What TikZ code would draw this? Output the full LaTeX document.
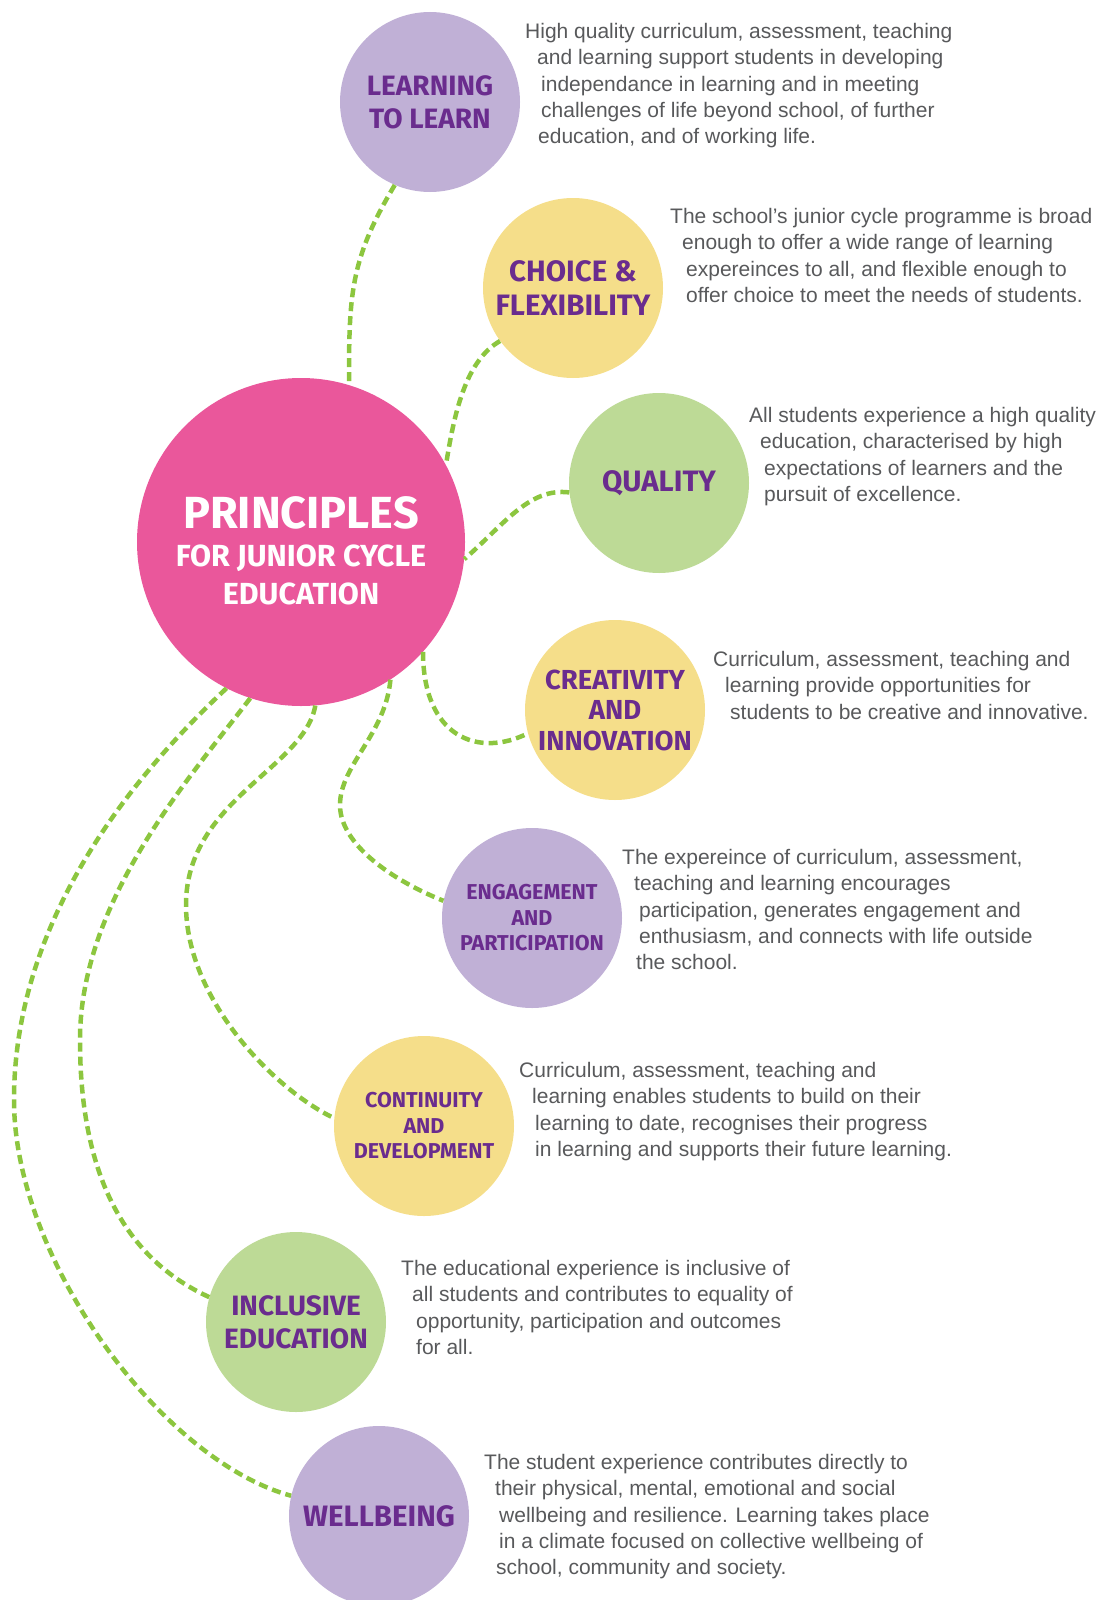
\documentclass[tikz,border=0pt]{standalone}
\usepackage{fontspec}
\usepackage{tikz}
\usetikzlibrary{positioning}
\newfontfamily\bodyfont{Liberation Sans}
\newfontfamily\labelfont{Fira Sans}

\definecolor{lav}{HTML}{C0B0D6}
\definecolor{sun}{HTML}{F5DE8A}
\definecolor{leaf}{HTML}{BDDA96}
\definecolor{rose}{HTML}{EA579B}
\definecolor{grape}{HTML}{6A2C8E}
\definecolor{vine}{HTML}{8CC63F}
\definecolor{ink}{HTML}{58595B}

\tikzset{
  bubble/.style={circle, minimum size=180pt, inner sep=0pt, align=center, text=grape,
    font=\labelfont\bfseries\fontsize{28}{33}\selectfont},
  smallbubble/.style={bubble, font=\labelfont\bfseries\fontsize{21.5}{25.5}\selectfont},
  hub/.style={circle, minimum size=328pt, inner sep=0pt, fill=rose},
  hubtext/.style={align=center, inner sep=0pt, text=white,
    font=\labelfont\bfseries\fontsize{30.5}{38}\selectfont},
  blurb/.style={anchor=north west, inner sep=0pt, align=left, text=ink,
    font=\bodyfont\fontsize{21}{26.3}\selectfont},
  link/.style={vine, line width=4.5pt, dash pattern=on 9pt off 5pt}
}

\begin{document}
\begin{tikzpicture}[x=1pt, y=-1pt]
  \useasboundingbox (0,0) rectangle (1102,1600);

  % circles
  \node[hub] (hub) at (301,542) {};
  \node[hubtext] (hubtitle) at ([yshift=-9pt]hub.center) {{\fontsize{45}{46}\selectfont PRINCIPLES}\\FOR JUNIOR CYCLE\\EDUCATION};

  \node[bubble, fill=lav] (learn) at (430,102) {LEARNING\\TO LEARN};
  \node[bubble, fill=sun, font=\labelfont\bfseries\fontsize{29.5}{34}\selectfont] (choice) at (573,288) {CHOICE \&\\FLEXIBILITY};
  \node[bubble, fill=leaf, font=\labelfont\bfseries\fontsize{29.5}{34}\selectfont] (quality) at (659,483) {QUALITY};
  \node[bubble, fill=sun, font=\labelfont\bfseries\fontsize{27.5}{30.5}\selectfont] (create) at (615,710) {CREATIVITY\\AND\\INNOVATION};
  \node[smallbubble, fill=lav] (engage) at (532,918) {ENGAGEMENT\\AND\\PARTICIPATION};
  \node[smallbubble, fill=sun] (contin) at (424,1126) {CONTINUITY\\AND\\DEVELOPMENT};
  \node[bubble, fill=leaf] (incl) at (296,1322) {INCLUSIVE\\EDUCATION};
  \node[bubble, fill=lav, font=\labelfont\bfseries\fontsize{29.5}{34}\selectfont] (well) at (379,1516) {WELLBEING};

  % dashed links
  \draw[link] (learn.247) .. controls +(-45,75) and +(0,-90) .. (hub.73);
  \draw[link] (choice.216) .. controls +(-35,20) and +(8,-50) .. (hub.28);
  \draw[link] (quality.186) .. controls +(-40,-5) and +(40,-35) .. (hub.354);
  \draw[link] (hub.318) .. controls +(0,85) and +(-50,25) .. (create.195);
  \draw[link] (hub.303) .. controls +(-5,55) and +(0,-40) .. (340,805)
    .. controls +(0,40) and +(-50,-20) .. (engage.169);
  \draw[link] (hub.275) .. controls +(-11,63) and +(0,-105) .. (186,905)
    .. controls +(0,95) and +(-59,-28) .. (contin.175);
  \draw[link] (hub.252) .. controls +(-60,79) and +(0,-140) .. (80,1040)
    .. controls +(0,140) and +(-81,-37) .. (incl.164);
  \draw[link] (hub.243) .. controls +(-107,100) and +(0,-170) .. (14,1100)
    .. controls +(0,160) and +(-129,-35) .. (well.167);

  % descriptions
  \node[blurb] (learntxt) at (525,23) {High quality curriculum, assessment, teaching\\
    \hspace*{12pt}and learning support students in developing\\
    \hspace*{16pt}independance in learning and in meeting\\
    \hspace*{16pt}challenges of life beyond school, of further\\
    \hspace*{13pt}education, and of working life.};
  \node[blurb] (choicetxt) at (670,208) {The school’s junior cycle programme is broad\\
    \hspace*{12pt}enough to offer a wide range of learning\\
    \hspace*{16pt}expereinces to all, and flexible enough to\\
    \hspace*{16pt}offer choice to meet the needs of students.};
  \node[blurb] (qualitytxt) at (749,407) {All students experience a high quality\\
    \hspace*{11pt}education, characterised by high\\
    \hspace*{15pt}expectations of learners and the\\
    \hspace*{15pt}pursuit of excellence.};
  \node[blurb] (createtxt) at (713,651) {Curriculum, assessment, teaching and\\
    \hspace*{12pt}learning provide opportunities for\\
    \hspace*{17pt}students to be creative and innovative.};
  \node[blurb] (engagetxt) at (622,849) {The expereince of curriculum, assessment,\\
    \hspace*{12pt}teaching and learning encourages\\
    \hspace*{17pt}participation, generates engagement and\\
    \hspace*{17pt}enthusiasm, and connects with life outside\\
    \hspace*{14pt}the school.};
  \node[blurb] (contintxt) at (519,1062) {Curriculum, assessment, teaching and\\
    \hspace*{13pt}learning enables students to build on their\\
    \hspace*{16pt}learning to date, recognises their progress\\
    \hspace*{16pt}in learning and supports their future learning.};
  \node[blurb] (incltxt) at (401,1260) {The educational experience is inclusive of\\
    \hspace*{11pt}all students and contributes to equality of\\
    \hspace*{15pt}opportunity, participation and outcomes\\
    \hspace*{15pt}for all.};
  \node[blurb] (welltxt) at (484,1454) {The student experience contributes directly to\\
    \hspace*{11pt}their physical, mental, emotional and social\\
    \hspace*{15pt}wellbeing and resilience. Learning takes place\\
    \hspace*{15pt}in a climate focused on collective wellbeing of\\
    \hspace*{12pt}school, community and society.};
\end{tikzpicture}
\end{document}
